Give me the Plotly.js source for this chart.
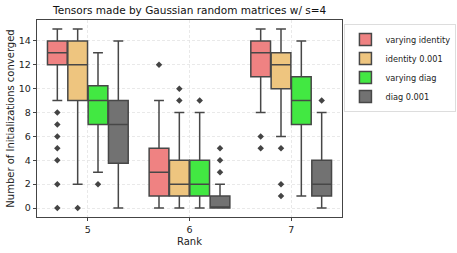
<!DOCTYPE html>
<html>
<head>
<meta charset="utf-8">
<script src="https://cdn.plot.ly/plotly-3.0.1.min.js"></script>
<style>html,body{margin:0;padding:0;background:#fff;}#chart{width:457px;height:253px;}</style>
</head>
<body>
<div id="chart"></div>
<script>
var ranks = ['5', '6', '7'];
var seriesNames = ['varying identity', 'identity 0.001', 'varying diag', 'diag 0.001'];
var seriesColors = ['#EF8282', '#EEC57F', '#42E842', '#727272'];

var q1Values = [
  [12, 1, 11],
  [9, 1, 10],
  [7, 1, 7],
  [3.75, 0, 1]
];
var medianValues = [
  [13, 3, 13],
  [12, 2, 12],
  [9, 2, 9],
  [7, 0, 2]
];
var q3Values = [
  [14, 5, 14],
  [14, 4, 13],
  [10.25, 4, 11],
  [9, 1, 4]
];
var lowerWhisker = [
  [9, 0, 8],
  [2, 0, 6],
  [3, 0, 1],
  [0, 0, 0]
];
var upperWhisker = [
  [15, 9, 15],
  [15, 8, 15],
  [13, 8, 14],
  [14, 2, 8]
];
// null = no outliers for that box
var outlierValues = [
  [[8, 7, 6, 5, 4, 2, 0], [12], [6, 5]],
  [[0], [10, 9], [5, 2, 1]],
  [[2], [9], [null]],
  [[null], [5, 4, 3], [9]]
];

var lineCol = '#474747';
var traces = seriesNames.map(function (name, s) {
  return {
    type: 'box',
    name: name,
    orientation: 'v',
    x: ranks,
    y: outlierValues[s],
    q1: q1Values[s],
    median: medianValues[s],
    q3: q3Values[s],
    lowerfence: lowerWhisker[s],
    upperfence: upperWhisker[s],
    boxpoints: 'outliers',
    jitter: 0,
    pointpos: 0,
    whiskerwidth: 0.5,
    fillcolor: seriesColors[s],
    line: {color: lineCol, width: 1.5},
    marker: {symbol: 'diamond', color: '#444444', size: 5, line: {width: 0}},
    hoverinfo: 'skip'
  };
});

var layout = {
  width: 457,
  height: 253,
  margin: {l: 37, r: 115, t: 20, b: 36, autoexpand: false},
  paper_bgcolor: '#ffffff',
  plot_bgcolor: '#ffffff',
  font: {family: 'DejaVu Sans, sans-serif', size: 9.5, color: '#222'},
  title: {
    text: 'Tensors made by Gaussian random matrices w/ s=4',
    font: {size: 10.5, color: '#111'},
    x: 0.415, xanchor: 'center', y: 0.96, yanchor: 'middle'
  },
  boxmode: 'group',
  boxgap: 0.2,
  boxgroupgap: 0.03,
  showlegend: true,
  legend: {
    x: 1.008, xanchor: 'left', y: 0.98, yanchor: 'top',
    bordercolor: '#dddddd', borderwidth: 1,
    font: {size: 8.2, color: '#222'},
    tracegroupgap: 0,
    itemwidth: 30
  },
  xaxis: {
    type: 'category',
    title: {text: 'Rank', font: {size: 10}, standoff: 4},
    range: [-0.5, 2.5],
    showline: true, mirror: true, linecolor: '#444', linewidth: 1.2,
    showgrid: true, gridcolor: '#e3e3e3', griddash: '3px,2px', gridwidth: 0.8,
    ticks: 'outside', ticklen: 3, tickcolor: '#444',
    zeroline: false
  },
  yaxis: {
    title: {text: 'Number of Initializations converged', font: {size: 10}, standoff: 2},
    range: [-0.75, 15.75],
    tickvals: [0, 2, 4, 6, 8, 10, 12, 14],
    showline: true, mirror: true, linecolor: '#444', linewidth: 1.2,
    showgrid: true, gridcolor: '#e3e3e3', griddash: '3px,2px', gridwidth: 0.8,
    ticks: 'outside', ticklen: 3, tickcolor: '#444',
    zeroline: false
  }
};

Plotly.newPlot('chart', traces, layout, {displayModeBar: false, staticPlot: true});
</script>
</body>
</html>
